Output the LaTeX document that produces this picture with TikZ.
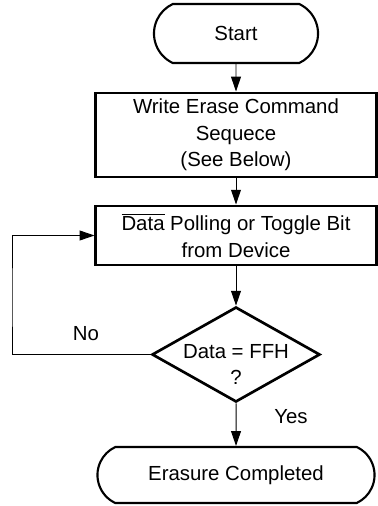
\documentclass[tikz,border=0pt]{standalone}
\usepackage{fontspec}
\setmainfont{Liberation Sans}
\usetikzlibrary{shapes.geometric, shapes.misc, arrows.meta}
\begin{document}
\begin{tikzpicture}[x=0.025cm, y=-0.025cm,
  every node/.style={font=\fontsize{14.5}{19}\selectfont, align=center},
  terminal/.style={draw, line width=1.5pt, rounded rectangle, rounded rectangle arc length=130, inner sep=0pt},
  stepbox/.style={draw, line width=2.1pt, rectangle, minimum width=7cm, inner sep=0pt},
  decision/.style={draw, line width=1.9pt, diamond, minimum width=4.2cm, minimum height=2.375cm, inner sep=0pt},
  flow/.style={line width=0.7pt, -{Triangle[length=10.5pt, width=7pt]}}]
\useasboundingbox (0,0) rectangle (377,506);
\node[terminal, minimum width=4.1cm, minimum height=1.475cm] (start) at (236,33.5) {Start};
\node[stepbox, minimum height=2.1cm] (write) at (236,135) {Write Erase Command\\Sequece\\(See Below)};
\node[stepbox, minimum height=1.475cm] (poll) at (236,235.5) {$\overline{\hbox{Data}}$ Polling or Toggle Bit\\from Device};
\node[decision, label={[yshift=-0.25cm]center:Data = FFH\\?}] (check) at (236,354.5) {};
\node[terminal, minimum width=6.925cm, minimum height=1.4cm] (finish) at (236,475) {Erasure Completed};
\coordinate (loop) at (12,300);
\node (no) at (86,334) {No};
\node (yes) at (291,417) {Yes};
\draw[flow] (start) -- (write);
\draw[flow] (write) -- (poll);
\draw[flow] (poll) -- (check);
\draw[flow] (check) -- (finish);
\draw[flow] (check.west) -| (loop) |- (poll.west);
\end{tikzpicture}
\end{document}
